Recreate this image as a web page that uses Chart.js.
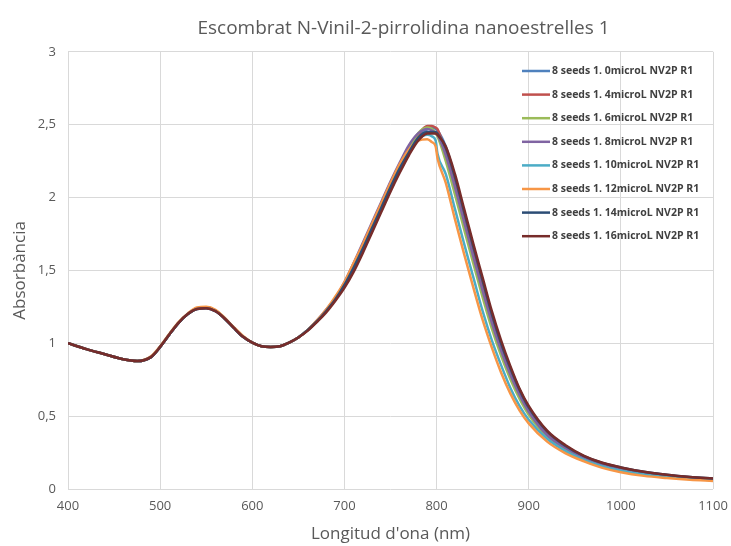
<!DOCTYPE html>
<html>
<head>
<meta charset="utf-8">
<script src="https://cdn.jsdelivr.net/npm/chart.js@4/dist/chart.umd.min.js"></script>
<style>
  body { margin: 0; background: #fff; }
  #wrap { width: 731px; height: 546px; }
</style>
</head>
<body>
<div id="wrap"><canvas id="chartSpectra" width="731" height="546"></canvas></div>
<script>
const wavelengths = [400, 420, 440, 460, 475, 490, 500, 510, 520, 530, 540, 550, 560, 570, 580, 590,
  600, 610, 620, 630, 640, 650, 660, 670, 680, 690, 700, 710, 720, 730, 740, 750, 760, 770, 780, 790,
  795, 799, 801, 810, 820, 830, 840, 850, 860, 870, 880, 890, 900, 920, 940, 960, 980, 1000, 1025,
  1050, 1075, 1100];

const seriesNames = [
  '8 seeds 1. 0microL NV2P R1',
  '8 seeds 1. 4microL NV2P R1',
  '8 seeds 1. 6microL NV2P R1',
  '8 seeds 1. 8microL NV2P R1',
  '8 seeds 1. 10microL NV2P R1',
  '8 seeds 1. 12microL NV2P R1',
  '8 seeds 1. 14microL NV2P R1',
  '8 seeds 1. 16microL NV2P R1',
];

const seriesColors = ['#4F81BD', '#C0504D', '#9BBB59', '#8064A2', '#4BACC6', '#F79646', '#2C4D75', '#772C2A'];

const abs0 = [1.00, 0.96, 0.925, 0.89, 0.878, 0.905, 0.975, 1.06, 1.14, 1.20, 1.235, 1.24, 1.22, 1.17, 1.105, 1.045,
  1.005, 0.98, 0.975, 0.98, 1.005, 1.04, 1.09, 1.15, 1.22, 1.30, 1.40, 1.52, 1.65, 1.79, 1.93, 2.07, 2.20, 2.32, 2.42, 2.47,
  2.48, 2.47, 2.46, 2.35, 2.14, 1.90, 1.66, 1.43, 1.20, 1.00, 0.83, 0.68, 0.56, 0.39, 0.29, 0.22, 0.175, 0.145, 0.115,
  0.095, 0.08, 0.07];
const abs4 = [1.00, 0.96, 0.925, 0.89, 0.878, 0.905, 0.975, 1.06, 1.14, 1.20, 1.238, 1.245, 1.225, 1.17, 1.105, 1.045,
  1.005, 0.98, 0.975, 0.98, 1.005, 1.04, 1.09, 1.15, 1.22, 1.30, 1.40, 1.52, 1.65, 1.79, 1.93, 2.07, 2.20, 2.33, 2.43, 2.49,
  2.49, 2.48, 2.47, 2.31, 2.09, 1.85, 1.61, 1.385, 1.16, 0.965, 0.80, 0.655, 0.54, 0.38, 0.285, 0.218, 0.172, 0.142, 0.112,
  0.093, 0.079, 0.068];
const abs6 = [1.00, 0.96, 0.925, 0.89, 0.878, 0.905, 0.975, 1.06, 1.14, 1.20, 1.238, 1.245, 1.225, 1.17, 1.105, 1.045,
  1.005, 0.98, 0.975, 0.98, 1.005, 1.04, 1.09, 1.15, 1.22, 1.30, 1.40, 1.52, 1.66, 1.80, 1.94, 2.08, 2.21, 2.33, 2.44, 2.48,
  2.47, 2.44, 2.42, 2.25, 2.02, 1.78, 1.545, 1.315, 1.10, 0.915, 0.755, 0.62, 0.51, 0.36, 0.27, 0.21, 0.165, 0.135, 0.107,
  0.088, 0.074, 0.064];
const abs8 = [1.00, 0.96, 0.925, 0.89, 0.878, 0.905, 0.975, 1.06, 1.14, 1.20, 1.238, 1.245, 1.225, 1.17, 1.105, 1.045,
  1.005, 0.98, 0.975, 0.98, 1.005, 1.04, 1.09, 1.155, 1.23, 1.31, 1.42, 1.55, 1.69, 1.83, 1.97, 2.11, 2.24, 2.36, 2.44, 2.47,
  2.46, 2.44, 2.43, 2.29, 2.07, 1.83, 1.59, 1.36, 1.14, 0.95, 0.785, 0.645, 0.53, 0.37, 0.28, 0.215, 0.17, 0.14, 0.11,
  0.091, 0.077, 0.067];
const abs10 = [1.00, 0.96, 0.925, 0.89, 0.878, 0.905, 0.975, 1.06, 1.14, 1.20, 1.238, 1.245, 1.225, 1.17, 1.105, 1.045,
  1.005, 0.98, 0.975, 0.98, 1.005, 1.04, 1.09, 1.15, 1.22, 1.30, 1.40, 1.52, 1.65, 1.79, 1.93, 2.07, 2.20, 2.32, 2.40, 2.43,
  2.42, 2.39, 2.30, 2.16, 1.92, 1.68, 1.45, 1.22, 1.02, 0.85, 0.695, 0.57, 0.475, 0.345, 0.26, 0.20, 0.155, 0.125, 0.10,
  0.082, 0.069, 0.06];
const abs12 = [1.00, 0.96, 0.925, 0.89, 0.878, 0.91, 0.98, 1.065, 1.145, 1.205, 1.245, 1.25, 1.23, 1.175, 1.11, 1.05,
  1.005, 0.98, 0.975, 0.98, 1.005, 1.04, 1.09, 1.155, 1.23, 1.32, 1.42, 1.55, 1.68, 1.82, 1.96, 2.10, 2.23, 2.33, 2.39, 2.40,
  2.38, 2.35, 2.27, 2.10, 1.85, 1.61, 1.38, 1.16, 0.97, 0.80, 0.656, 0.54, 0.45, 0.325, 0.245, 0.19, 0.145, 0.115, 0.09,
  0.075, 0.063, 0.055];
const abs14 = [1.00, 0.96, 0.925, 0.89, 0.878, 0.905, 0.975, 1.06, 1.14, 1.20, 1.235, 1.24, 1.22, 1.17, 1.105, 1.045,
  1.005, 0.98, 0.975, 0.98, 1.005, 1.04, 1.09, 1.15, 1.22, 1.30, 1.40, 1.52, 1.65, 1.79, 1.93, 2.07, 2.20, 2.31, 2.41, 2.45,
  2.45, 2.45, 2.44, 2.34, 2.14, 1.90, 1.66, 1.43, 1.20, 1.00, 0.83, 0.68, 0.56, 0.395, 0.295, 0.225, 0.178, 0.148, 0.118,
  0.097, 0.082, 0.072];
const abs16 = [1.00, 0.96, 0.925, 0.89, 0.878, 0.905, 0.975, 1.06, 1.14, 1.20, 1.235, 1.24, 1.22, 1.17, 1.105, 1.045,
  1.005, 0.98, 0.975, 0.98, 1.005, 1.04, 1.085, 1.145, 1.21, 1.29, 1.38, 1.49, 1.62, 1.76, 1.90, 2.04, 2.17, 2.29, 2.39, 2.44,
  2.44, 2.44, 2.43, 2.35, 2.16, 1.92, 1.68, 1.45, 1.22, 1.02, 0.845, 0.69, 0.57, 0.40, 0.30, 0.228, 0.18, 0.148, 0.118,
  0.097, 0.082, 0.072];

const seriesValues = [abs0, abs4, abs6, abs8, abs10, abs12, abs14, abs16];

const yTicks = [0, 0.5, 1, 1.5, 2, 2.5, 3];

const textGrey = '#595959';
const gridGrey = '#d9d9d9';

// legend sits inside the plot, top right, like the Excel original
const insideLegend = {
  id: 'insideLegend',
  afterLayout(chart) {
    // Excel puts the title a bit right of the plot centre
    if (chart.titleBlock) {
      chart.titleBlock.left += 13;
      chart.titleBlock.right += 13;
    }
  },
  afterDraw(chart) {
    const ctx = chart.ctx;
    ctx.save();
    ctx.font = 'bold 10.5px "Open Sans"';
    ctx.textBaseline = 'middle';
    chart.data.datasets.forEach((ds, i) => {
      const y = 71 + i * 23.6;
      ctx.strokeStyle = ds.borderColor;
      ctx.lineWidth = 2.5;
      ctx.beginPath();
      ctx.moveTo(522, y);
      ctx.lineTo(550, y);
      ctx.stroke();
      ctx.fillStyle = '#404040';
      ctx.fillText(ds.label, 552, y);
    });
    ctx.restore();
  },
};

const datasets = seriesNames.map((name, i) => ({
  label: name,
  data: wavelengths.map((w, j) => ({ x: w, y: seriesValues[i][j] })),
  borderColor: seriesColors[i],
  backgroundColor: seriesColors[i],
  borderWidth: 2.5,
  pointRadius: 0,
  cubicInterpolationMode: 'monotone',
  order: seriesNames.length - i,
}));

const configSpectra = {
  type: 'line',
  data: { datasets: datasets },
  options: {
    responsive: false,
    animation: false,
    layout: { padding: { left: 0, right: 18, top: 0, bottom: 0 } },
    plugins: {
      legend: { display: false },
      tooltip: { enabled: false },
      title: {
        display: true,
        fullSize: false,
        text: 'Escombrat N-Vinil-2-pirrolidina nanoestrelles 1',
        color: textGrey,
        font: { family: 'Open Sans', size: 19, weight: 'normal' },
        padding: { top: 17, bottom: 12 },
      },
    },
    scales: {
      x: {
        type: 'linear',
        min: 400,
        max: 1100,
        grid: { color: gridGrey, drawTicks: false },
        border: { display: false },
        ticks: {
          stepSize: 100,
          color: textGrey,
          padding: 9,
          maxRotation: 0,
          font: { family: 'Open Sans', size: 13 },
          callback: v => String(v),
        },
        title: {
          display: true,
          text: "Longitud d'ona (nm)",
          color: textGrey,
          font: { family: 'Open Sans', size: 17 },
          padding: { top: 0, bottom: 2 },
        },
        afterFit(scale) {
          scale.height = 57;
          scale.paddingLeft = 0;
          scale.paddingRight = 0;
        },
      },
      y: {
        min: 0,
        max: 3,
        grid: { color: gridGrey, drawTicks: false },
        border: { display: false },
        afterBuildTicks(scale) { scale.ticks = yTicks.map(v => ({ value: v })); },
        ticks: {
          color: textGrey,
          padding: 12,
          font: { family: 'Open Sans', size: 13 },
          callback: v => String(v).replace('.', ','),
        },
        title: {
          display: true,
          text: 'Absorbància',
          color: textGrey,
          font: { family: 'Open Sans', size: 17 },
          padding: { top: 10, bottom: 0 },
        },
        afterFit(scale) { scale.width = 68; },
      },
    },
  },
  plugins: [insideLegend],
};

var chartSpectra = new Chart(document.getElementById('chartSpectra'), configSpectra);
</script>
</body>
</html>
